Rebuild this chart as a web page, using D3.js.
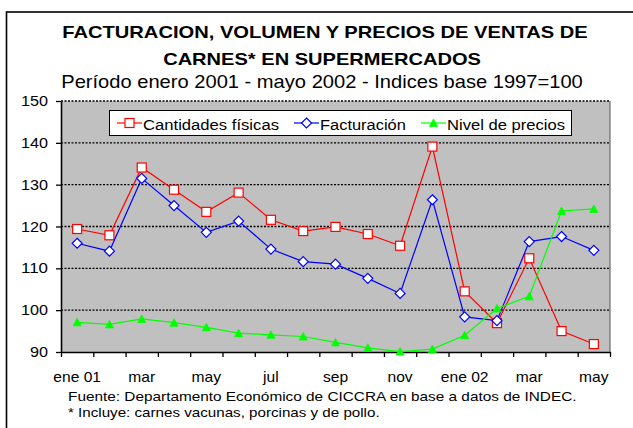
<!DOCTYPE html>
<html lang="es">
<head>
<meta charset="UTF-8">
<title>Facturación, volumen y precios de ventas de carnes</title>
<script src="https://d3js.org/d3.v7.min.js"></script>
<style>
    body { margin: 0; background: #fff; font-family: Arial, "Liberation Sans", sans-serif; }
    svg text { font-family: Arial, "Liberation Sans", sans-serif; fill: #000; }
</style>
</head>
<body>
<div id="grafico"></div>
<script>
    // meses del periodo
    const meses = ["ene 01", "feb", "mar", "abr", "may", "jun", "jul", "ago", "sep", "oct", "nov", "dic",
        "ene 02", "feb", "mar", "abr", "may"];

    const cantidades = [119.4, 117.9, 134.1, 128.8, 123.5, 128.1, 121.6, 118.9, 119.9, 118.2, 115.4, 139.1,
        104.5, 96.9, 112.4, 95.0, 91.9];
    const facturacion = [116.0, 114.1, 131.5, 125.0, 118.6, 121.3, 114.6, 111.6, 111.0, 107.6, 104.0, 126.4,
        98.4, 97.5, 116.4, 117.6, 114.3];
    const precios = [97.1, 96.6, 97.9, 97.0, 95.9, 94.5, 94.1, 93.7, 92.3, 91.0, 90.1, 90.7,
        94.0, 100.4, 103.3, 123.7, 124.2];

    const yTicks = [90, 100, 110, 120, 130, 140, 150];

    const W = 633, H = 428;
    const plot = { left: 61, right: 610, top: 101, bottom: 352 };

    const svg = d3.select("#grafico").append("svg")
        .attr("width", W)
        .attr("height", H);

    // marco exterior
    svg.append("rect")
        .attr("x", 6.5).attr("y", 12)
        .attr("width", 700).attr("height", 500)
        .attr("fill", "none")
        .attr("stroke", "#000")
        .attr("stroke-width", 1.6);

    // el original esta estirado a lo ancho: se mide el texto y se escala en x
    function texto(parent, x0, yb, size, weight, ancho, t, anchor) {
        const g = parent.append("g");
        const el = g.append("text")
            .attr("font-size", size + "px")
            .attr("font-weight", weight)
            .attr("text-anchor", anchor || "start")
            .text(t);
        const sx = ancho / el.node().getComputedTextLength();
        g.attr("transform", `translate(${x0},${yb}) scale(${sx},1)`);
        return el;
    }

    texto(svg, 325, 38, 16, "bold", 526, "FACTURACION, VOLUMEN Y PRECIOS DE VENTAS DE", "middle");
    texto(svg, 322, 65, 16, "bold", 318, "CARNES* EN SUPERMERCADOS", "middle");
    texto(svg, 322, 88, 17.5, "normal", 522, "Período enero 2001 - mayo 2002 - Indices base 1997=100", "middle");

    const x = d3.scaleLinear()
        .domain([0, meses.length])
        .range([plot.left, plot.right]);

    const y = d3.scaleLinear()
        .domain([90, 150])
        .range([plot.bottom, plot.top]);

    // fondo del area de grafico
    svg.append("rect")
        .attr("x", plot.left).attr("y", plot.top)
        .attr("width", plot.right - plot.left)
        .attr("height", plot.bottom - plot.top)
        .attr("fill", "#c0c0c0");

    // lineas de division punteadas
    svg.append("g")
        .selectAll("line")
        .data(yTicks.filter(d => d > 90))
        .enter().append("line")
        .attr("x1", plot.left).attr("x2", plot.right)
        .attr("y1", d => y(d)).attr("y2", d => y(d))
        .attr("stroke", "#000")
        .attr("stroke-width", 1.3)
        .attr("stroke-dasharray", "2,1.5");

    // borde derecho
    svg.append("line")
        .attr("x1", plot.right).attr("x2", plot.right)
        .attr("y1", plot.top).attr("y2", plot.bottom)
        .attr("stroke", "#555");

    // eje Y
    const ejeY = svg.append("g")
        .attr("transform", `translate(${plot.left},0)`)
        .call(d3.axisLeft(y).tickValues(yTicks).tickSize(5).tickPadding(8).tickSizeOuter(0).tickFormat(""));
    ejeY.selectAll("line, path").attr("stroke", "#000").attr("stroke-width", 1.3);
    ejeY.select(".domain").attr("stroke-width", 1.6);

    yTicks.forEach(v => {
        texto(svg, 48, y(v) + 5, 15, "normal", String(v).length * 9, String(v), "end");
    });

    // eje X: marcas entre categorias
    const ejeX = svg.append("g")
        .attr("transform", `translate(0,${plot.bottom})`)
        .call(d3.axisBottom(x).tickValues(d3.range(meses.length + 1)).tickSize(5)
            .tickFormat("").tickSizeOuter(0));
    ejeX.selectAll("line, path").attr("stroke", "#000").attr("stroke-width", 1.3);
    ejeX.select(".domain").attr("stroke-width", 1.6);

    meses.forEach((m, i) => {
        if (i % 2 === 0) {
            const el = svg.append("text").attr("font-size", "15px").text(m);
            const w = el.node().getComputedTextLength();
            el.remove();
            texto(svg, x(i + 0.5), 382, 15, "normal", w * 1.04, m, "middle");
        }
    });

    // notas
    texto(svg, 68, 400.5, 13, "normal", 509, "Fuente: Departamento Económico de CICCRA en base a datos de INDEC.");
    texto(svg, 68, 417, 13, "normal", 312, "* Incluye: carnes vacunas, porcinas y de pollo.");

    const series = [
        { nombre: "Cantidades físicas", valores: cantidades, color: "#ff0000", marca: "square", ancho: 136, pos: 117 },
        { nombre: "Facturación", valores: facturacion, color: "#0000ff", marca: "diamond", ancho: 86, pos: 294 },
        { nombre: "Nivel de precios", valores: precios, color: "#00ff00", marca: "triangle", ancho: 118, pos: 421 }
    ];

    function dibujarMarca(g, tipo, color) {
        if (tipo === "square") {
            g.append("rect")
                .attr("x", -4.5).attr("y", -4.5).attr("width", 9).attr("height", 9)
                .attr("fill", "#fff").attr("stroke", color).attr("stroke-width", 1.2);
        } else if (tipo === "diamond") {
            g.append("path")
                .attr("d", "M0,-5L5,0L0,5L-5,0Z")
                .attr("fill", "#fff").attr("stroke", color).attr("stroke-width", 1.2);
        } else {
            g.append("path")
                .attr("d", "M0,-4L4,3.5L-4,3.5Z")
                .attr("fill", color).attr("stroke", color).attr("stroke-width", 0.8);
        }
    }

    const linea = d3.line()
        .x((d, i) => x(i + 0.5))
        .y(d => y(d));

    series.forEach(s => {
        svg.append("path")
            .datum(s.valores)
            .attr("d", linea)
            .attr("fill", "none")
            .attr("stroke", s.color)
            .attr("stroke-width", 1.2);

        svg.append("g")
            .selectAll("g")
            .data(s.valores)
            .enter().append("g")
            .attr("transform", (d, i) => `translate(${x(i + 0.5)},${y(d)})`)
            .each(function () { dibujarMarca(d3.select(this), s.marca, s.color); });
    });

    // leyenda
    const leyenda = svg.append("g");
    leyenda.append("rect")
        .attr("x", 109.5).attr("y", 110.5)
        .attr("width", 462).attr("height", 25)
        .attr("fill", "#fff")
        .attr("stroke", "#000");

    series.forEach(s => {
        const g = leyenda.append("g").attr("transform", `translate(${s.pos},123)`);
        g.append("line")
            .attr("x1", 0).attr("x2", 25)
            .attr("stroke", s.color).attr("stroke-width", 1.2);
        dibujarMarca(g.append("g").attr("transform", "translate(12.5,0)"), s.marca, s.color);
        texto(g, 26, 6.5, 15.5, "normal", s.ancho, s.nombre);
    });
</script>
</body>
</html>
